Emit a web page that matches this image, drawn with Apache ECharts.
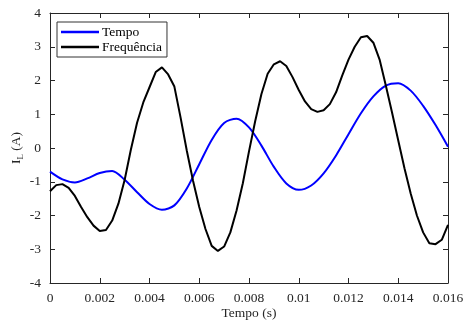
<!DOCTYPE html>
<html>
<head>
<meta charset="utf-8">
<script src="https://cdn.jsdelivr.net/npm/echarts@6/dist/echarts.min.js"></script>
<style>
html,body{margin:0;padding:0;background:#fff;}
#chart{width:463px;height:322px;}
</style>
</head>
<body>
<div id="chart"></div>
<script>
// Tempo series, sampled every 0.0005 s
const tempoStep = 0.0005;
const tempoValues = [-0.70,-0.93,-1.02,-0.90,-0.74,-0.68,-0.94,-1.31,-1.66,-1.83,-1.70,-1.20,-0.48,0.24,0.74,0.87,0.61,0.07,-0.56,-1.05,-1.24,-1.11,-0.75,-0.22,0.41,1.03,1.53,1.85,1.92,1.70,1.25,0.68,0.04];
// Frequência series, sampled every 0.00025 s
const freqStep = 0.00025;
const freqValues = [
 -1.28,-1.10,-1.07,-1.18,-1.42,-1.75,-2.05,-2.30,-2.46,-2.43,
 -2.15,-1.65,-0.95,-0.05,0.75,1.35,1.80,2.25,2.39,2.18,
 1.82,0.90,-0.08,-0.97,-1.75,-2.40,-2.90,-3.05,-2.92,-2.50,
 -1.85,-1.05,-0.10,0.80,1.60,2.20,2.48,2.57,2.43,2.10,
 1.72,1.38,1.15,1.07,1.12,1.30,1.65,2.15,2.62,3.00,
 3.28,3.32,3.12,2.62,1.85,1.05,0.22,-0.60,-1.35,-2.00,
 -2.50,-2.82,-2.85,-2.72,-2.28];
const seriesNames = ['Tempo','Frequência'];
const xTicks = [0,0.002,0.004,0.006,0.008,0.01,0.012,0.014,0.016];
const yTicks = [-4,-3,-2,-1,0,1,2,3,4];

const tempoData = tempoValues.map((v,i)=>[+(i*tempoStep).toFixed(6), v]);
const freqData = freqValues.map((v,i)=>[+(i*freqStep).toFixed(6), v]);

const font = 'Liberation Serif';
const axisCol = '#262626';
const labelFmt = v => { const r = +v.toFixed(6); return xTicks.indexOf(r)>=0 ? String(r) : ''; };

const chart = echarts.init(document.getElementById('chart'));
chart.setOption({
  animation:false,
  grid:{left:50,right:15,top:13,bottom:39,containLabel:false,outerBoundsMode:'none'},
  legend:{
    orient:'vertical', left:57, top:22,
    padding:[3,5,3,4], itemGap:1,
    itemWidth:38, itemHeight:2.5, icon:'rect',
    borderColor:'#333', borderWidth:1, backgroundColor:'#fff',
    textStyle:{fontFamily:font, fontSize:13.5, color:'#000', padding:[0,0,0,-2]},
    data:seriesNames
  },
  xAxis:[{
    type:'value', min:0, max:0.016, interval:0.002,
    name:'Tempo (s)', nameLocation:'middle', nameGap:23, nameMoveOverlap:false,
    nameTextStyle:{fontFamily:font, fontSize:13.5, color:axisCol},
    axisLine:{onZero:false, lineStyle:{color:axisCol,width:1}},
    axisTick:{inside:true,length:5,lineStyle:{color:axisCol}},
    axisLabel:{fontFamily:font,fontSize:13.5,color:axisCol,margin:8,formatter:labelFmt},
    splitLine:{show:false}
  },{
    type:'value', min:0, max:0.016, interval:0.002, position:'top',
    axisLine:{onZero:false, lineStyle:{color:axisCol,width:1}},
    axisTick:{inside:true,length:5,lineStyle:{color:axisCol}},
    axisLabel:{show:false}, splitLine:{show:false}
  }],
  yAxis:[{
    type:'value', min:-4, max:4, interval:1,
    name:'{m|I}{s|L}{m| (A)}', nameLocation:'middle', nameGap:25, nameMoveOverlap:false,
    nameTextStyle:{fontFamily:font, color:axisCol,
      rich:{m:{fontFamily:font,fontSize:13.5,color:axisCol},
            s:{fontFamily:font,fontSize:9,color:axisCol,verticalAlign:'bottom',padding:[8,0,0,0]}}},
    axisLine:{onZero:false, lineStyle:{color:axisCol,width:1}},
    axisTick:{inside:true,length:5,lineStyle:{color:axisCol}},
    axisLabel:{fontFamily:font,fontSize:13.5,color:axisCol,margin:9},
    splitLine:{show:false}
  },{
    type:'value', min:-4, max:4, interval:1, position:'right',
    axisLine:{onZero:false, lineStyle:{color:axisCol,width:1}},
    axisTick:{inside:true,length:5,lineStyle:{color:axisCol}},
    axisLabel:{show:false}, splitLine:{show:false}
  }],
  series:[{
    name:seriesNames[0], type:'line', data:tempoData, smooth:0.3,
    showSymbol:false, color:'#0000ff', lineStyle:{width:2,color:'#0000ff'}
  },{
    name:seriesNames[1], type:'line', data:freqData, smooth:false,
    showSymbol:false, color:'#000000', lineStyle:{width:2,color:'#000000'}
  }]
});
</script>
</body>
</html>
